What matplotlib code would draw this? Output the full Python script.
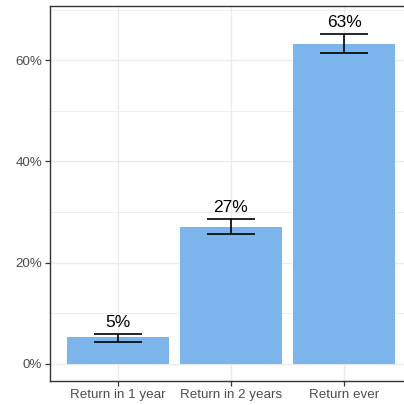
import numpy as np
import matplotlib
matplotlib.use("Agg")
import matplotlib.pyplot as plt
from matplotlib.ticker import FuncFormatter, MultipleLocator

# values
categories = ["Return in 1 year", "Return in 2 years", "Return ever"]
share = [5.2, 27.1, 63.2]
err_low = [4.3, 25.6, 61.5]
err_high = [5.9, 28.6, 65.1]
labels = ["5%", "27%", "63%"]

plt.rcParams['font.family'] = ['Liberation Sans', 'DejaVu Sans']

fig = plt.figure(figsize=(4.04, 4.05), dpi=100)
ax = fig.add_axes([50 / 404, 24 / 405, 362 / 404, 375 / 405])

x = np.arange(len(categories))
ax.bar(x, share, width=0.9, color="#7CB5EC", zorder=2)

share_a = np.array(share)
yerr = [share_a - np.array(err_low), np.array(err_high) - share_a]
ax.errorbar(x, share, yerr=yerr, fmt="none", ecolor="black", elinewidth=1.2,
            capsize=17, capthick=1.2, zorder=3)

for xi, hi, lab in zip(x, err_high, labels):
    ax.annotate(lab, (xi, hi), xytext=(0, 3), textcoords="offset points",
                ha="center", va="bottom", fontsize=12.5, color="black")

ax.set_xlim(-0.6, len(categories) - 0.4)
ax.set_ylim(-3.4, 70.7)
ax.set_xticks(x)
ax.set_xticklabels(categories)
ax.yaxis.set_major_locator(MultipleLocator(20))
ax.yaxis.set_minor_locator(MultipleLocator(10))
ax.yaxis.set_major_formatter(FuncFormatter(lambda v, p: f"{v:.0f}%"))

ax.grid(True, which="major", color="#EBEBEB", linewidth=1.0, zorder=0)
ax.grid(True, which="minor", axis="y", color="#EBEBEB", linewidth=0.6, zorder=0)
ax.set_axisbelow(True)

for s in ax.spines.values():
    s.set_color("#333333")
    s.set_linewidth(1.0)

ax.tick_params(axis="both", which="major", length=3.5, width=0.9, color="#333333",
               labelcolor="#4D4D4D", labelsize=9.6, pad=2)
ax.tick_params(axis="y", which="minor", length=0)

fig.savefig("out.png", dpi=100)
